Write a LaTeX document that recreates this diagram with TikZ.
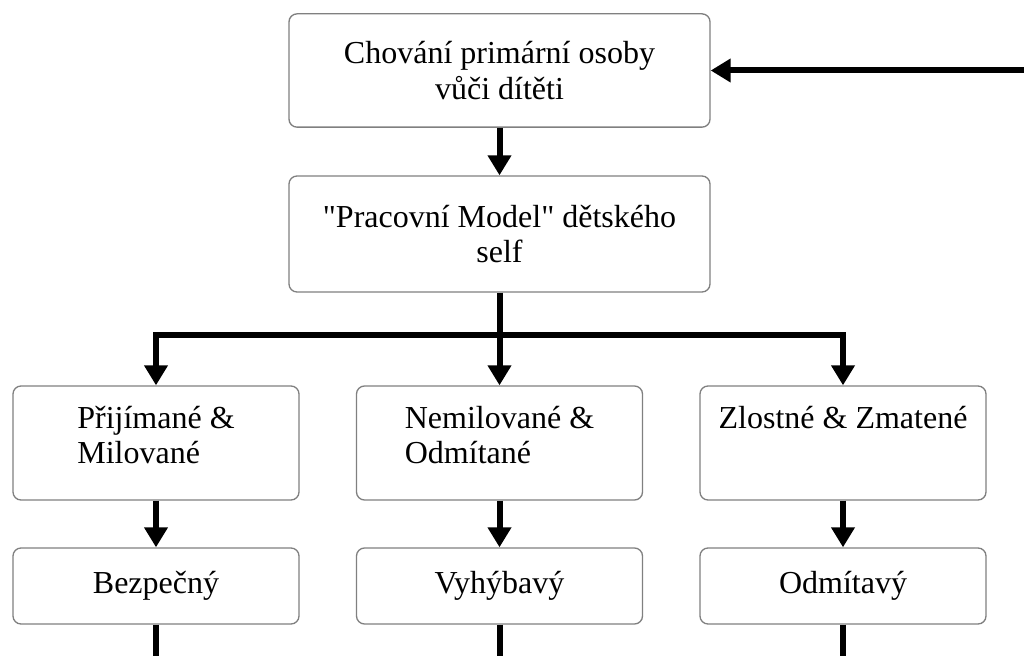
\documentclass[tikz,border=0pt]{standalone}
\usepackage{fontspec}
\setmainfont{Liberation Serif}[Ligatures=TeXOff]
\usetikzlibrary{arrows.meta,math}

\newcommand{\leftlines}[1]{\begin{tabular}[t]{@{}l@{}}#1\end{tabular}}

\begin{document}
\begin{tikzpicture}[x=0.75pt,y=-0.75pt,
      every node/.style={font=\fontsize{24pt}{26.5pt}\selectfont},
      box/.style={draw=gray, line width=1pt, rounded corners=6pt, inner sep=0pt},
      widebox/.style={box, align=center, minimum width=315.75pt, minimum height=85pt},
      midbox/.style={box, minimum width=214.5pt, text height=31.5pt, text depth=54pt},
      lowbox/.style={box, minimum width=214.5pt, minimum height=57pt},
      flow/.style={-{Triangle[length=15pt,width=17pt]}, line width=4.5pt},
      tail/.style={line width=4.5pt}]
    \tikzmath{
      \colL=156; \colM=499.5; \colR=843; % column centres
      \ymid=443; \ylow=586;
    }
    \useasboundingbox (0,0) rectangle (1024,656);

    % upper boxes
    \node[widebox] (carer) at (\colM,70.5) {Chování primární osoby\\vůči dítěti};
    \node[widebox, minimum height=87pt] (model) at (\colM,234) {"Pracovní Model" dětského\\self};

    % kinds of self
    \node[midbox] (accepted) at (\colL,\ymid) {\leftlines{Přijímané \&\\Milované}};
    \node[midbox] (unloved) at (\colM,\ymid) {\leftlines{Nemilované \&\\Odmítané}};
    \node[midbox] (angry) at (\colR,\ymid) {\leftlines{Zlostné \& Zmatené}};

    % attachment styles
    \node[lowbox] (secure) at (\colL,\ylow) {Bezpečný};
    \node[lowbox] (avoidant) at (\colM,\ylow) {Vyhýbavý};
    \node[lowbox] (rejecting) at (\colR,\ylow) {Odmítavý};

    % draw arrows
    \coordinate (split) at (\colM,335);
    \coordinate (loopin) at (1024,70.5);
    \coordinate (edge) at (0,656);
    \draw [flow] (carer) -- (model);
    \draw [tail] (model) -- (split);
    \foreach \k in {accepted,unloved,angry} {
      \draw [flow] (split) -| (\k);
    }
    \foreach \k/\s in {accepted/secure,unloved/avoidant,angry/rejecting} {
      \draw [flow] (\k) -- (\s);
      \draw [tail] (\s) -- (\s.south |- edge);
    }
    \draw [flow] (loopin) -- (carer);
  \end{tikzpicture}
\end{document}
